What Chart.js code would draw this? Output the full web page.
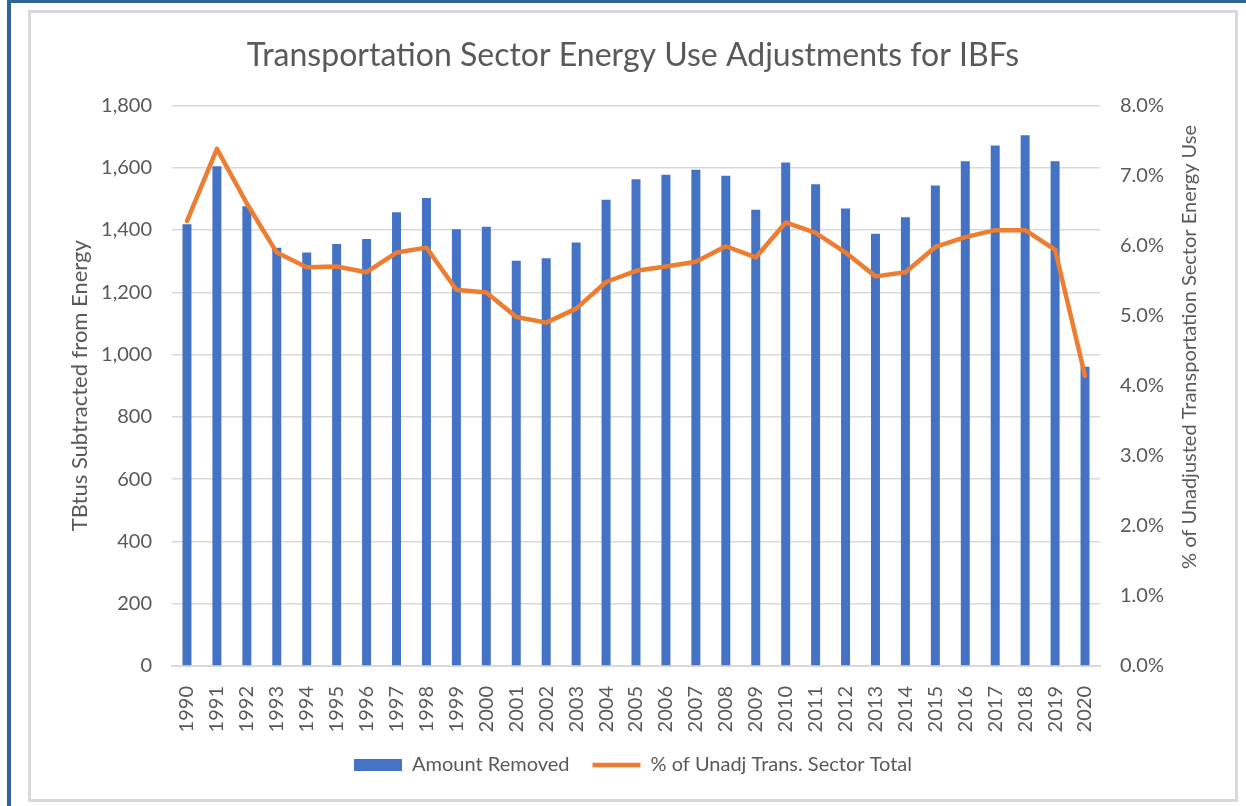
<!DOCTYPE html>
<html>
<head>
<meta charset="utf-8">
<script src="https://cdn.jsdelivr.net/npm/chart.js@4.4.0/dist/chart.umd.min.js"></script>
<style>
  body { margin: 0; background: #fff; }
  #blueTop { position: absolute; left: 7px; top: 0; width: 1239px; height: 3px; background: #2F6399; }
  #blueLeft { position: absolute; left: 7px; top: 0; width: 4px; height: 806px; background: #2F6399; }
  #box { position: absolute; left: 28px; top: 10px; width: 1204px; height: 786px; border: 3px solid #D9D9D9; }
  canvas { display: block; }
</style>
</head>
<body>
<div id="blueTop"></div>
<div id="blueLeft"></div>
<div id="box"><canvas id="ibfChart" width="1204" height="786"></canvas></div>
<script>
const years = ['1990','1991','1992','1993','1994','1995','1996','1997','1998','1999','2000',
  '2001','2002','2003','2004','2005','2006','2007','2008','2009','2010',
  '2011','2012','2013','2014','2015','2016','2017','2018','2019','2020'];
// TBtu removed
const amountRemoved = [1418, 1605, 1476, 1343, 1328, 1355, 1371, 1457, 1503, 1402, 1410,
  1301, 1309, 1360, 1497, 1563, 1577, 1593, 1574, 1465, 1617,
  1547, 1469, 1388, 1441, 1543, 1621, 1671, 1704, 1621, 961];
// percent of unadjusted transportation total
const pctOfTotal = [6.35, 7.38, 6.60, 5.90, 5.69, 5.70, 5.62, 5.90, 5.97, 5.37, 5.33,
  4.98, 4.90, 5.10, 5.48, 5.64, 5.70, 5.77, 5.99, 5.83, 6.33,
  6.18, 5.90, 5.56, 5.62, 5.98, 6.12, 6.22, 6.22, 5.94, 4.14];

const grey = '#595959';
Chart.defaults.font.family = 'Lato';
Chart.defaults.color = grey;

// right axis title reads bottom-to-top like the left one
const rightTitle = {
  id: 'rightTitle',
  afterDraw(chart) {
    const ctx = chart.ctx;
    ctx.save();
    ctx.translate(1159, 334);
    ctx.rotate(-Math.PI / 2);
    ctx.font = '20px Lato';
    ctx.fillStyle = grey;
    ctx.textAlign = 'center';
    ctx.textBaseline = 'middle';
    ctx.fillText('% of Unadjusted Transportation Sector Energy Use', 0, 0);
    ctx.restore();
  }
};

let ibfChart = new Chart(document.getElementById('ibfChart'), {
  type: 'bar',
  data: {
    labels: years,
    datasets: [
      {
        type: 'line',
        label: '% of Unadj Trans. Sector Total',
        data: pctOfTotal,
        yAxisID: 'y1',
        borderColor: '#ED7D31',
        backgroundColor: '#ED7D31',
        borderWidth: 4.5,
        borderJoinStyle: 'round',
        borderCapStyle: 'round',
        pointRadius: 0,
        pointStyle: 'line',
        tension: 0,
        order: 0
      },
      {
        label: 'Amount Removed',
        data: amountRemoved,
        yAxisID: 'y',
        backgroundColor: '#4472C4',
        borderWidth: 0,
        pointStyle: 'rect',
        barPercentage: 0.3,
        categoryPercentage: 1,
        order: 1
      }
    ]
  },
  options: {
    responsive: false,
    devicePixelRatio: 1,
    animation: false,
    layout: { padding: { bottom: 14 } },
    plugins: {
      title: {
        display: true,
        text: 'Transportation Sector Energy Use Adjustments for IBFs',
        color: grey,
        font: { size: 32, weight: 'normal' },
        padding: { top: 23, bottom: 31 }
      },
      legend: {
        position: 'bottom',
        reverse: true,
        labels: {
          usePointStyle: true,
          pointStyleWidth: 48,
          boxHeight: 12,
          padding: 23,
          font: { size: 20 },
          color: grey
        }
      },
      tooltip: { enabled: false }
    },
    scales: {
      x: {
        grid: { display: false },
        border: { color: '#D9D9D9', width: 2 },
        ticks: { minRotation: 90, maxRotation: 90, padding: 12, font: { size: 20 } },
        afterFit(scale) { scale.height = 66; }
      },
      y: {
        position: 'left',
        min: 0,
        max: 1800,
        ticks: {
          stepSize: 200,
          padding: 20,
          font: { size: 20 },
          callback: v => v.toLocaleString('en-US')
        },
        grid: { color: '#D9D9D9', lineWidth: 1.5, drawTicks: false },
        border: { display: false },
        title: {
          display: true,
          text: 'TBtus Subtracted from Energy',
          font: { size: 22 },
          color: grey,
          padding: { top: 36 }
        },
        afterFit(scale) { scale.width = 141; }
      },
      y1: {
        position: 'right',
        min: 0,
        max: 8,
        ticks: {
          stepSize: 1,
          padding: 20,
          font: { size: 20 },
          callback: v => v.toFixed(1) + '%'
        },
        grid: { display: false, drawTicks: false },
        border: { display: false },
        afterFit(scale) { scale.width = 135; }
      }
    }
  },
  plugins: [rightTitle]
});
</script>
</body>
</html>
